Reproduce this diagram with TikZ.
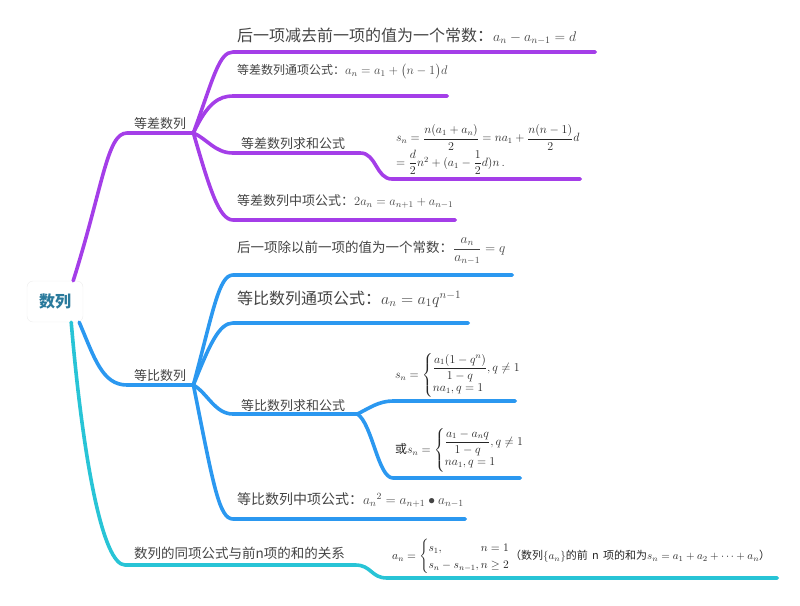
\RequirePackage{fix-cm}
\documentclass[tikz,border=0pt]{standalone}
\usepackage{amsmath,amssymb}
\usepackage[no-math]{fontspec}
\setmainfont{Noto Sans CJK SC}
\usepackage{tikz}
\definecolor{cpurp}{RGB}{164,62,232}
\definecolor{cblue}{RGB}{43,152,240}
\definecolor{cteal}{RGB}{40,196,214}
\definecolor{croot}{RGB}{42,122,156}
\definecolor{txt}{RGB}{68,68,68}
\newcommand{\fs}[1]{\fontsize{#1}{#1}\selectfont}
\relpenalty=10000
\binoppenalty=10000
\medmuskip=4mu plus 2mu
\thickmuskip=5mu plus 5mu

\begin{document}
\begin{tikzpicture}[x=1pt, y=-1pt,
    font=\fs{13},
    topic/.style={anchor=south west, inner xsep=4pt, text width=#1,
                  align=left, text depth=0pt, text=txt},
    fml/.style={anchor=south west, inner xsep=4pt, inner ysep=4pt,
                text width=#1, align=left, text=black!85},
    branch/.style={line width=3.6pt, line cap=round, line join=round}
  ]
  \useasboundingbox (0,0) rectangle (800,605);
  % root
  \node[draw=black!7, fill=white, rounded corners=6pt, minimum width=56pt,
        minimum height=41pt, text=croot, font=\fs{16}\bfseries] (root) at (55,301.5) {数列};
  % arithmetic sequence
  \node[topic=58pt, align=center, inner ysep=4.5pt] (dc) at (127,133) {等差数列};
  \node[topic=354pt, inner ysep=10.5pt] (dc1) at (233,52)
       {\fs{16}后一项减去前一项的值为一个常数：\fs{14}$a_n-a_{n-1}=d$};
  \node[topic=206pt, inner ysep=21pt] (dc2) at (233,96)
       {\fs{12}等差数列通项公式：\fs{12.5}$a_n=a_1+\bigl(n-1\bigr)d$};
  \node[topic=111pt, inner xsep=8pt, inner ysep=4.5pt] (dc3) at (233,153) {等差数列求和公式};
  \node[fml=180pt] (dc3a) at (392,179)
       {\fs{12}$\begin{array}{@{}l@{}}
          s_n=\dfrac{n(a_1+a_n)}{2}=na_1+\dfrac{n(n-1)}{2}d\\
          =\dfrac{d}{2}n^2+(a_1-\dfrac{1}{2}d)n\,.
        \end{array}$};
  \node[topic=214pt, inner ysep=14pt] (dc4) at (233,220)
       {\fs{13}等差数列中项公式：\fs{12.5}$2a_n=a_{n+1}+a_{n-1}$};
  \draw[branch, cpurp] ([xshift=-10pt]root.north east) .. controls +(30,-95) and +(-20,0) .. (dc.south west) -- (dc.south east);
  \draw[branch, cpurp] (dc.south east) .. controls +(20,-55) and +(-14,0) .. (dc1.south west) -- (dc1.south east);
  \draw[branch, cpurp] (dc.south east) .. controls +(14,-30) and +(-14,0) .. (dc2.south west) -- (dc2.south east);
  \draw[branch, cpurp] (dc.south east) .. controls +(14,6) and +(-18,0) .. (dc3.south west) -- (dc3.south east)
        .. controls +(16,0) and +(-16,0) .. (dc3a.south west) -- (dc3a.south east);
  \draw[branch, cpurp] (dc.south east) .. controls +(16,55) and +(-14,0) .. (dc4.south west) -- (dc4.south east);
  % geometric sequence
  \node[topic=58pt, align=center, inner ysep=4pt] (db) at (127,385) {等比数列};
  \node[topic=271pt, inner ysep=22.5pt] (db1) at (233,275)
       {\fs{13.5}后一项除以前一项的值为一个常数：\fs{13.5}$\dfrac{a_n}{a_{n-1}}=q$};
  \node[topic=227pt, inner ysep=18.5pt] (db2) at (233,323)
       {\fs{16}等比数列通项公式：\fs{16}$a_n=a_1q^{n-1}$};
  \node[topic=108pt, inner xsep=8pt, inner ysep=3.5pt] (db3) at (233,414) {等比数列求和公式};
  \node[fml=118pt, inner xsep=2pt] (db3a) at (393,401)
       {\fs{12}$s_n=\begin{cases}\dfrac{a_1(1-q^n)}{1-q},q\neq 1\\ na_1,q=1\end{cases}$};
  \node[fml=123pt, inner xsep=2pt, inner ysep=6pt] (db3b) at (393,478)
       {\fs{12}或\fs{12}$s_n=\begin{cases}\dfrac{a_1-a_nq}{1-q},q\neq 1\\ na_1,q=1\end{cases}$};
  \node[topic=224pt, inner ysep=14pt] (db4) at (233,519)
       {\fs{14}等比数列中项公式：\fs{13.5}${a_n}^{2}=a_{n+1}\bullet a_{n-1}$};
  \draw[branch, cblue] ([xshift=-4pt]root.south east) .. controls +(15,35) and +(-25,0) .. (db.south west) -- (db.south east);
  \draw[branch, cblue] (db.south east) .. controls +(20,-75) and +(-14,0) .. (db1.south west) -- (db1.south east);
  \draw[branch, cblue] (db.south east) .. controls +(16,-40) and +(-14,0) .. (db2.south west) -- (db2.south east);
  \draw[branch, cblue] (db.south east) .. controls +(14,8) and +(-18,0) .. (db3.south west) -- (db3.south east);
  \draw[branch, cblue] (db3.south east) .. controls +(12,-6) and +(-14,0) .. (db3a.south west) -- (db3a.south east);
  \draw[branch, cblue] (db3.south east) .. controls +(15,10) and +(-15,0) .. (db3b.south west) -- (db3b.south east);
  \draw[branch, cblue] (db.south east) .. controls +(20,100) and +(-14,0) .. (db4.south west) -- (db4.south east);
  % general term and partial sums
  \node[topic=212pt, inner xsep=9pt, inner ysep=6pt] (gx) at (125,565)
       {\fs{13.5}数列的同项公式与前n项的和的关系};
  \node[fml=380pt, inner xsep=5pt] (gx1) at (387,578)
       {\renewcommand{\arraystretch}{1.5}\fs{11.5}$a_n=\left\{\begin{array}{@{}l@{\,}l@{}}
          s_1, & n=1\\ s_n-s_{n-1}, & n\ge 2\end{array}\right.$%
        \fs{11}（数列$\{a_n\}$的前~n~项的和为$s_n=a_1+a_2+\cdots+a_n$）};
  \draw[branch, cteal] ([xshift=-12pt]root.south east) .. controls +(12,140) and +(-22,0) .. (gx.south west) -- (gx.south east)
        .. controls +(16,0) and +(-16,0) .. (gx1.south west) -- (gx1.south east);
\end{tikzpicture}
\end{document}
